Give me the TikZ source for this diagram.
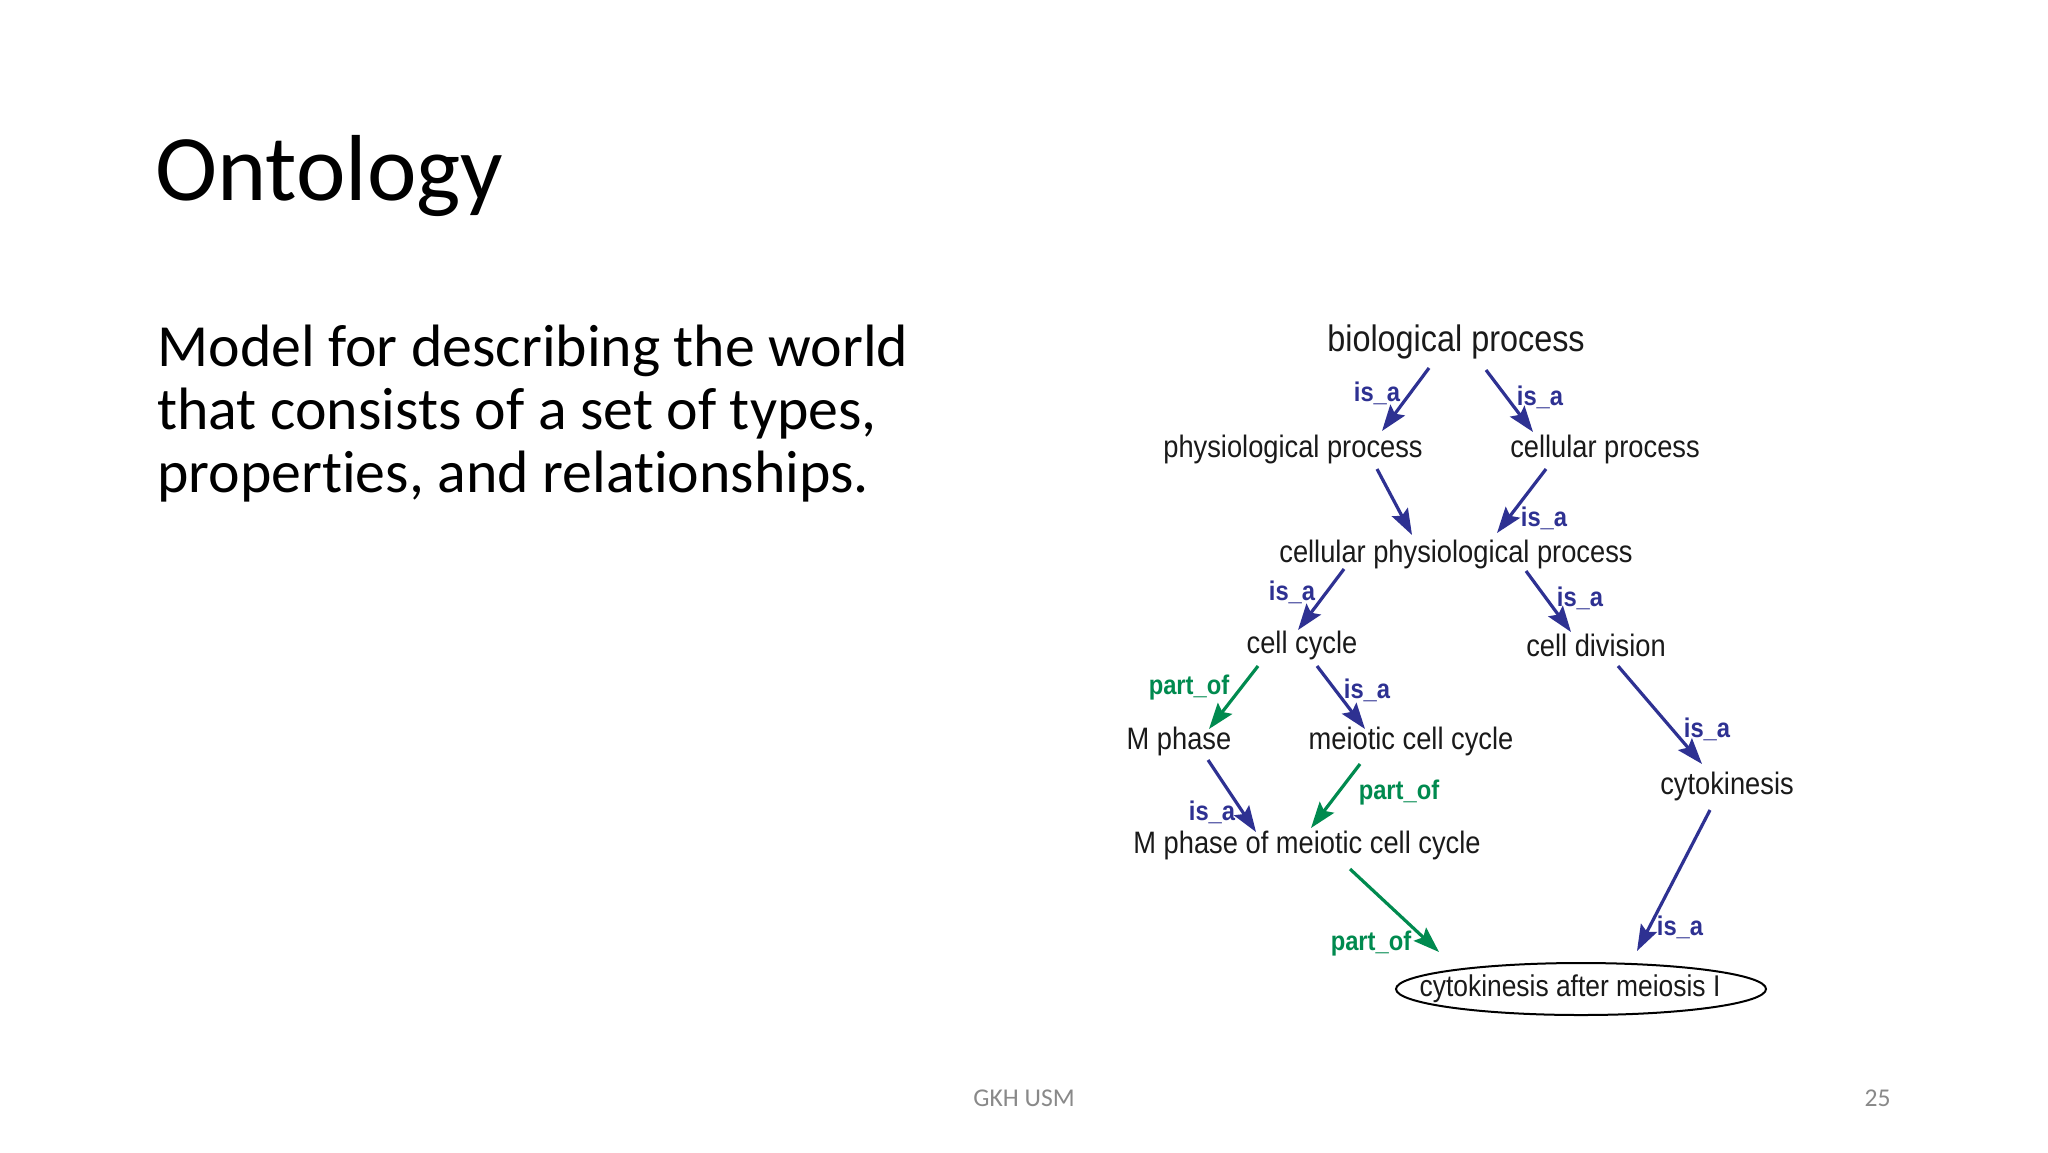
\documentclass[tikz,border=0pt]{standalone}
\usepackage{fontspec}
\setmainfont{Carlito}[Ligatures=NoCommon]
\newfontfamily\diagfont[FakeStretch=0.88]{Liberation Sans}
\usetikzlibrary{arrows.meta}
\definecolor{isablue}{HTML}{2E3192}
\definecolor{partgreen}{HTML}{008A4F}
\definecolor{footgray}{HTML}{898989}
\definecolor{termtext}{HTML}{1A1A1A}
\tikzset{
  term/.style={inner sep=0pt, text=termtext, font=\diagfont\fontsize{15.5pt}{18pt}\selectfont},
  rel/.style={line width=1.6pt, -{Stealth[length=13pt,width=9pt,inset=2.2pt]}},
  isa/.style={rel, draw=isablue, fill=isablue},
  partof/.style={rel, draw=partgreen, fill=partgreen},
  isalab/.style={inner sep=0pt, text=isablue, font=\diagfont\bfseries\fontsize{13.5pt}{16pt}\selectfont},
  partlab/.style={inner sep=0pt, text=partgreen, font=\diagfont\bfseries\fontsize{13.5pt}{16pt}\selectfont},
  bodytext/.style={anchor=base west, inner sep=0pt, font=\fontsize{29.9pt}{32pt}\selectfont},
  foot/.style={anchor=base, inner sep=0pt, text=footgray, font=\fontsize{12.8pt}{15pt}\selectfont}
}
\begin{document}
\begin{tikzpicture}[x=0.5pt, y=-0.5pt]
\useasboundingbox[fill=white] (0,0) rectangle (2048,1152);

% slide text
\node[anchor=base west, inner sep=0pt, font=\fontsize{46.9pt}{50pt}\selectfont] (title) at (155,200) {Ontology};
\node[bodytext] (l1) at (157,366) {Model for describing the world};
\node[bodytext] (l2) at (157,429) {that consists of a set of types,};
\node[bodytext] (l3) at (157,492) {properties, and relationships.};
\node[foot] (footer) at (1024,1106) {GKH USM};
\node[foot, anchor=base east] (pagenum) at (1891,1106) {25};

% terms
\node[term, font=\diagfont\fontsize{18.4pt}{21pt}\selectfont] (bio)  at (1456,342) {biological process};
\node[term] (phys) at (1293,449) {physiological process};
\node[term] (cell) at (1605,449) {cellular process};
\node[term] (cpp)  at (1456,554) {cellular physiological process};
\node[term] (cc)   at (1302,645) {cell cycle};
\node[term] (cd)   at (1596,645) {cell division};
\node[term] (mp)   at (1179,741) {M phase};
\node[term] (mcc)  at (1411,741) {meiotic cell cycle};
\node[term] (cyt)  at (1727,786) {cytokinesis};
\node[term] (mpm)  at (1307,845) {M phase of meiotic cell cycle};
\node[term, font=\diagfont\fontsize{15pt}{18pt}\selectfont] (ck) at (1570,989) {cytokinesis after meiosis I};
\draw[line width=1pt, black] ([shift={(11,0)}]ck.center) ellipse [x radius=185, y radius=26];

% relations
\draw[isa] ([shift={(-27,26)}]bio.center) -- ([shift={(89,-18)}]phys.center);
\draw[isa] ([shift={(30,28)}]bio.center) -- ([shift={(-72,-17)}]cell.center);
\draw[isa] ([shift={(84,20)}]phys.center) -- ([shift={(-44,-19)}]cpp.center);
\draw[isa] ([shift={(-59,20)}]cell.center) -- ([shift={(41,-21)}]cpp.center);
\draw[isa] ([shift={(-112,15)}]cpp.center) -- ([shift={(-4,-15)}]cc.center);
\draw[isa] ([shift={(70,17)}]cpp.center) -- ([shift={(-25,-13)}]cd.center);
\draw[partof] ([shift={(-44,21)}]cc.center) -- ([shift={(30,-12)}]mp.center);
\draw[isa] ([shift={(15,21)}]cc.center) -- ([shift={(-46,-12)}]mcc.center);
\draw[isa] ([shift={(22,21)}]cd.center) -- ([shift={(-25,-22)}]cyt.center);
\draw[isa] ([shift={(29,19)}]mp.center) -- ([shift={(-51,-13)}]mpm.center);
\draw[partof] ([shift={(-51,23)}]mcc.center) -- ([shift={(4,-17)}]mpm.center);
\draw[partof] ([shift={(43,24)}]mpm.center) -- ([shift={(-131,-37)}]ck.center);
\draw[isa] ([shift={(-17,24)}]cyt.center) -- ([shift={(67,-38)}]ck.center);

% relation labels
\node[isalab] (lab1) at (1377,393) {is\_a};
\node[isalab] (lab2) at (1540,397) {is\_a};
\node[isalab] (lab4) at (1544,518) {is\_a};
\node[isalab] (lab5) at (1292,592) {is\_a};
\node[isalab] (lab6) at (1580,598) {is\_a};
\node[partlab] (lab7) at (1189,688) {part\_of};
\node[isalab] (lab8) at (1367,690) {is\_a};
\node[isalab] (lab9) at (1707,729) {is\_a};
\node[isalab] (lab10) at (1212,812) {is\_a};
\node[partlab] (lab11) at (1399,793) {part\_of};
\node[partlab] (lab12) at (1371,943) {part\_of};
\node[isalab] (lab13) at (1680,927) {is\_a};
\end{tikzpicture}
\end{document}
